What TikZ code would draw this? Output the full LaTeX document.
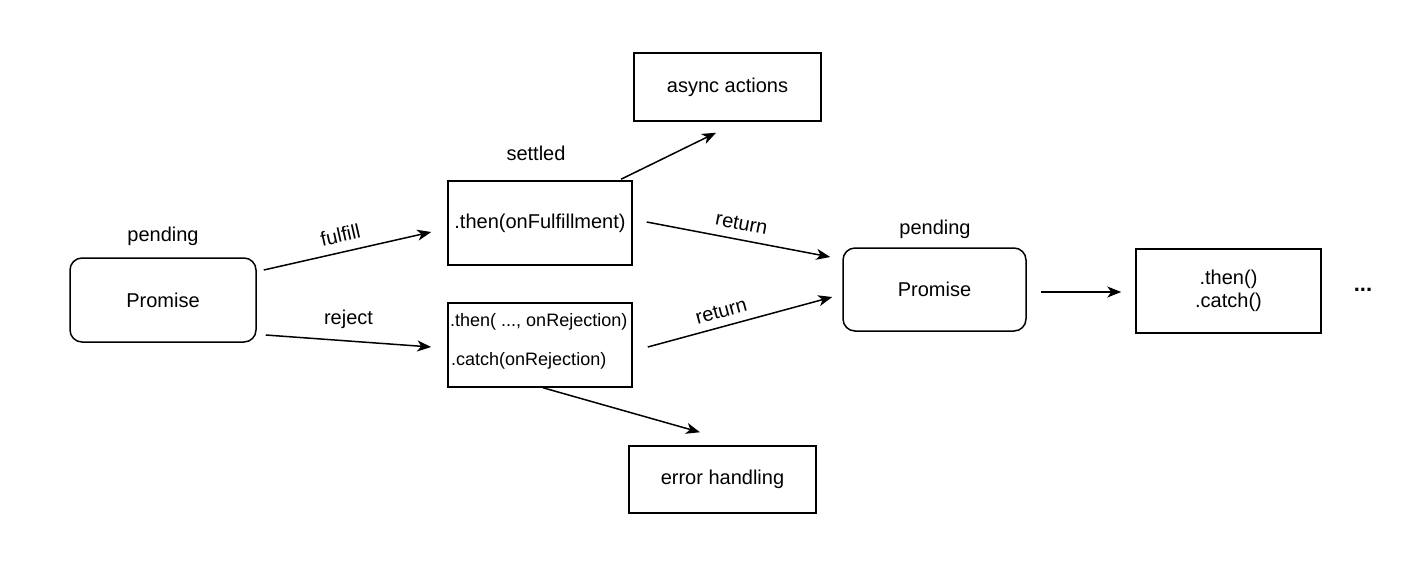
\documentclass[tikz,border=0pt]{standalone}
\usepackage{fontspec}
\setmainfont{Liberation Sans}
\usetikzlibrary{arrows.meta,calc}
\begin{document}
\begin{tikzpicture}[x=1pt,y=-1pt,
  box/.style={draw, line width=1.5pt, minimum width=184pt, minimum height=84pt, inner sep=0pt, font=\fontsize{20}{23}\selectfont},
  rbox/.style={box, rounded corners=12pt},
  lbl/.style={font=\fontsize{20}{23}\selectfont, inner sep=0pt},
  small/.style={font=\fontsize{18}{21}\selectfont, inner sep=0pt, anchor=west},
  arr/.style={line width=1.5pt, -{Stealth[length=14pt,width=11pt,inset=4pt]}}]
\useasboundingbox (0,0) rectangle (1420,582);

\node[rbox, minimum width=186pt] (p1) at (163,300) {Promise};
\node[lbl] (pend1) at (163,236) {pending};
\node[box] (then) at (540,223) {.then(onFulfillment)};
\node[lbl] (settled) at (536,153) {settled};
\node[box] (rej) at (540,345) {};
\node[small] (rejt1) at (450,322) {.then( ..., onRejection)};
\node[small] (rejt2) at (451,361) {.catch(onRejection)};
\node[box, minimum width=187pt, minimum height=68pt] (async) at (727.5,87) {async actions};
\node[box, minimum width=187pt, minimum height=67pt] (err) at (722.5,479.5) {error handling};
\node[rbox, minimum width=183pt, minimum height=83pt] (p2) at (934.5,289.5) {Promise};
\node[lbl] (pend2) at (935,229) {pending};
\node[box, minimum width=185pt, align=center] (tc) at (1228.5,291) {.then()\\.catch()};
\node[lbl, font=\fontsize{22}{24}\selectfont] (dots) at (1363,290) {\textbf{...}};

\draw[arr] ($(p1.east)+(7,-30)$) -- node[lbl, sloped, above=9pt, pos=0.48] (lfulfill) {fulfill} ($(then.west)+(-16,9)$);
\draw[arr] ($(p1.east)+(9,35)$) -- node[lbl, above=12pt, pos=0.5] (lreject) {reject} ($(rej.west)+(-16,2)$);
\draw[arr] ($(then.east)+(14,-1)$) -- node[lbl, sloped, above=9pt, pos=0.5] (lret1) {return} ($(p2.west)+(-12,-32.5)$);
\draw[arr] ($(rej.east)+(15,2)$) -- node[lbl, sloped, above=8pt, pos=0.42] (lret2) {return} ($(p2.west)+(-10,7.5)$);
\draw[arr] ($(then.north)+(81,-1)$) -- ($(async.south)+(-11.5,11)$);
\draw[arr] ($(rej.south)+(3,0)$) -- ($(err.north)+(-22.5,-13)$);
\draw[arr] ($(p2.east)+(14,2.5)$) -- ($(tc.west)+(-14,1)$);
\end{tikzpicture}
\end{document}
